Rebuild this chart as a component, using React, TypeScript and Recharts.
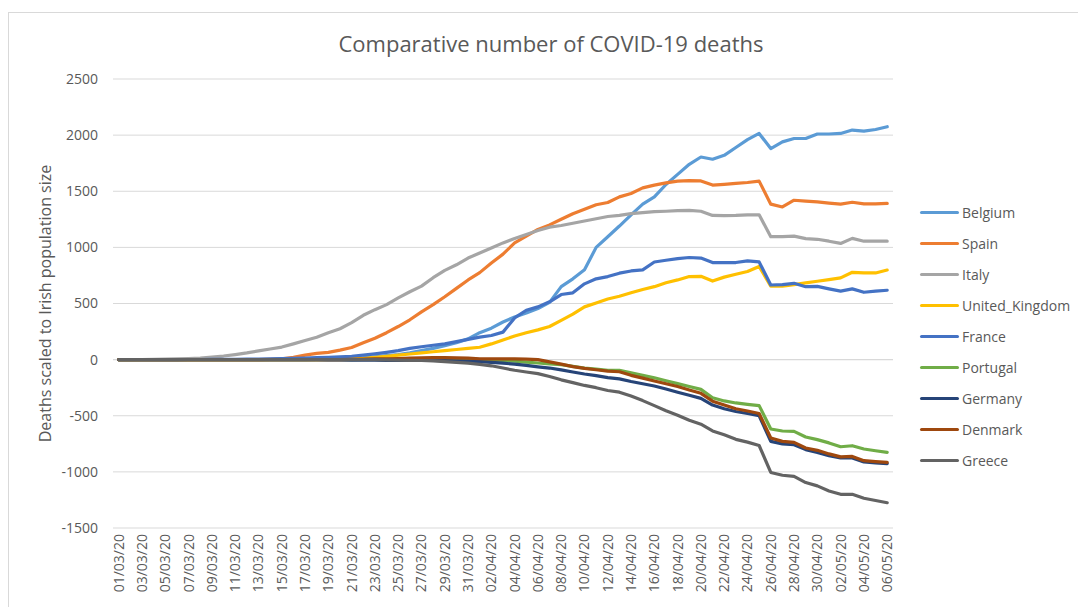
import { CartesianGrid, Line, LineChart, ReferenceLine, XAxis, YAxis } from "recharts"

const dates = [
  "01/03/20", "02/03/20", "03/03/20", "04/03/20", "05/03/20", "06/03/20", "07/03/20", "08/03/20", "09/03/20", "10/03/20",
  "11/03/20", "12/03/20", "13/03/20", "14/03/20", "15/03/20", "16/03/20", "17/03/20", "18/03/20", "19/03/20", "20/03/20",
  "21/03/20", "22/03/20", "23/03/20", "24/03/20", "25/03/20", "26/03/20", "27/03/20", "28/03/20", "29/03/20", "30/03/20",
  "31/03/20", "01/04/20", "02/04/20", "03/04/20", "04/04/20", "05/04/20", "06/04/20", "07/04/20", "08/04/20", "09/04/20",
  "10/04/20", "11/04/20", "12/04/20", "13/04/20", "14/04/20", "15/04/20", "16/04/20", "17/04/20", "18/04/20", "19/04/20",
  "20/04/20", "21/04/20", "22/04/20", "23/04/20", "24/04/20", "25/04/20", "26/04/20", "27/04/20", "28/04/20", "29/04/20",
  "30/04/20", "01/05/20", "02/05/20", "03/05/20", "04/05/20", "05/05/20", "06/05/20",
]

const belgium = [
  0, 0, 0, 0, 0, 0, 0, 0, 0, 0, 0, 0, 0, 0, 0, 0, 0, 1, 2, 4,
  10, 15, 25, 35, 45, 60, 80, 100, 125, 150, 185, 240, 280, 335, 380, 415, 455, 510, 650, 720,
  800, 1000, 1095, 1190, 1290, 1385, 1450, 1560, 1650, 1740, 1805, 1785, 1820, 1890, 1960, 2015, 1880, 1940, 1970, 1970,
  2010, 2010, 2015, 2045, 2035, 2050, 2075,
]
const spain = [
  0, 0, 0, 0, 0, 0, 0, 0, 0, 0, 0, 0, 0, 3, 8, 20, 40, 55, 65, 85,
  108, 150, 190, 240, 295, 355, 425, 490, 560, 635, 710, 775, 860, 940, 1040, 1100, 1160, 1200, 1250, 1300,
  1340, 1380, 1400, 1450, 1480, 1530, 1555, 1575, 1590, 1595, 1592, 1555, 1562, 1570, 1578, 1590, 1385, 1360, 1420, 1412,
  1405, 1395, 1385, 1402, 1388, 1388, 1392,
]
const italy = [
  0, 0, 1, 2, 4, 6, 10, 14, 22, 32, 45, 60, 78, 95, 112, 140, 170, 200, 240, 275,
  330, 395, 445, 490, 550, 605, 655, 730, 795, 845, 905, 950, 995, 1040, 1080, 1115, 1150, 1180, 1195, 1215,
  1235, 1255, 1275, 1285, 1300, 1310, 1318, 1322, 1328, 1330, 1322, 1285, 1283, 1285, 1290, 1290, 1095, 1095, 1100, 1078,
  1072, 1055, 1035, 1080, 1055, 1055, 1055,
]
const unitedKingdom = [
  0, 0, 0, 0, 0, 0, 0, 0, 0, 0, 0, 0, 0, 0, 0, 0, 0, 0, 2, 4,
  8, 12, 20, 30, 40, 50, 60, 70, 80, 90, 100, 110, 140, 175, 210, 240, 265, 295, 350, 405,
  470, 505, 540, 565, 595, 625, 650, 685, 710, 740, 742, 700, 735, 760, 785, 830, 655, 655, 668, 683,
  698, 713, 728, 778, 772, 772, 798,
]
const france = [
  0, 0, 0, 0, 0, 0, 1, 1, 2, 2, 3, 4, 5, 7, 9, 11, 14, 17, 20, 25,
  30, 40, 52, 65, 80, 100, 115, 128, 140, 160, 180, 200, 215, 245, 372, 440, 470, 515, 580, 595,
  675, 720, 740, 770, 790, 800, 870, 885, 900, 910, 905, 865, 865, 865, 880, 870, 665, 668, 680, 650,
  652, 630, 610, 630, 600, 610, 618,
]
const portugal = [
  0, 0, 0, 0, 0, 0, 0, 0, 0, 0, 0, 0, 0, 0, 0, 0, 0, 0, 0, 0,
  0, 1, 2, 3, 4, 6, 8, 10, 10, 8, 5, 0, -4, -8, -14, -22, -30, -38, -45, -60,
  -75, -85, -95, -95, -118, -140, -162, -188, -214, -240, -265, -340, -368, -386, -398, -410, -618, -636, -639, -689,
  -713, -742, -776, -767, -796, -812, -826,
]
const germany = [
  0, 0, 0, 0, 0, 0, 0, 0, 0, 0, 0, 0, 0, 0, 0, 0, 0, 0, -2, -3,
  -4, -5, -5, -6, -6, -5, -5, -6, -8, -10, -14, -18, -24, -32, -40, -52, -64, -75, -92, -110,
  -128, -142, -160, -172, -195, -215, -235, -262, -290, -318, -345, -405, -438, -462, -480, -500, -728, -750, -758, -802,
  -826, -855, -876, -876, -912, -920, -927,
]
const denmark = [
  0, 0, 0, 0, 0, 0, 0, 0, 0, 0, 0, 0, 0, 0, 0, 0, 0, 0, 0, 0,
  2, 4, 6, 8, 10, 14, 16, 18, 18, 16, 14, 8, 6, 8, 6, 4, 0, -20, -40, -62,
  -78, -90, -102, -108, -140, -165, -190, -215, -240, -270, -300, -370, -405, -438, -458, -480, -698, -728, -737, -787,
  -808, -840, -866, -862, -900, -908, -915,
]
const greece = [
  0, 0, 0, 0, 0, 0, 0, 0, 0, 0, 0, 0, 0, 0, 0, 0, 0, 0, 0, 0,
  0, 0, 0, -2, -4, -6, -8, -12, -18, -25, -32, -42, -55, -75, -95, -110, -125, -150, -180, -205,
  -230, -250, -275, -290, -325, -365, -410, -455, -495, -540, -575, -635, -670, -710, -735, -765, -1005, -1030, -1040, -1095,
  -1125, -1170, -1200, -1200, -1235, -1255, -1275,
]

const yTicks = [-1500, -1000, -500, 0, 500, 1000, 1500, 2000, 2500]

const series = [
  { name: "Belgium", color: "#5B9BD5", values: belgium },
  { name: "Spain", color: "#ED7D31", values: spain },
  { name: "Italy", color: "#A5A5A5", values: italy },
  { name: "United_Kingdom", color: "#FFC000", values: unitedKingdom },
  { name: "France", color: "#4472C4", values: france },
  { name: "Portugal", color: "#70AD47", values: portugal },
  { name: "Germany", color: "#264478", values: germany },
  { name: "Denmark", color: "#9E480E", values: denmark },
  { name: "Greece", color: "#636363", values: greece },
]

const rows = dates.map((date, i) => {
  const row: Record<string, string | number> = { date }
  series.forEach((s) => {
    row[s.name] = s.values[i]
  })
  return row
})

const FONT = "'Open Sans', 'Noto Sans', sans-serif"
const TEXT = "#595959"

function DateTick({ x, y, payload }: any) {
  return (
    <text
      x={x}
      y={y}
      transform={`rotate(-90, ${x}, ${y})`}
      textAnchor="end"
      dy="0.35em"
      fill={TEXT}
      fontSize={14}
      fontFamily={FONT}
    >
      {payload.value}
    </text>
  )
}

export default function App() {
  return (
    <div style={{ position: "fixed", left: 0, top: 0, width: 1078, height: 607, background: "#fff", overflow: "hidden" }}>
      <div
        style={{
          position: "absolute",
          left: 8,
          top: 12,
          width: 1100,
          height: 620,
          border: "1px solid #d9d9d9",
        }}
      />
      <div
        style={{
          position: "absolute",
          left: 0,
          top: 28,
          width: 1102,
          textAlign: "center",
          fontFamily: FONT,
          fontSize: 22,
          color: TEXT,
        }}
      >
        Comparative number of COVID-19 deaths
      </div>
      <div style={{ position: "absolute", left: 0, top: 0 }}>
        <LineChart width={1078} height={607} data={rows} margin={{ top: 79, right: 185, bottom: 0, left: 33 }}>
          <CartesianGrid vertical={false} stroke="#d9d9d9" />
          <XAxis
            dataKey="date"
            interval={1}
            height={79}
            tickSize={0}
            tickMargin={6}
            axisLine={false}
            tickLine={false}
            padding={{ left: 5.8, right: 5.8 }}
            tick={<DateTick />}
          />
          <YAxis
            width={80}
            domain={[-1500, 2500]}
            ticks={yTicks}
            axisLine={false}
            tickLine={false}
            tickMargin={9}
            tick={{ fill: TEXT, fontSize: 14, fontFamily: FONT }}
            label={{
              value: "Deaths scaled to Irish population size",
              angle: -90,
              position: "insideLeft",
              offset: 12,
              style: { textAnchor: "middle", fill: TEXT, fontSize: 16, fontFamily: FONT },
            }}
          />
          <ReferenceLine y={0} stroke="#d9d9d9" strokeWidth={1} />
          {series.map((s) => (
            <Line
              key={s.name}
              type="linear"
              dataKey={s.name}
              stroke={s.color}
              strokeWidth={3.2}
              strokeLinejoin="round"
              strokeLinecap="round"
              dot={false}
              activeDot={false}
              isAnimationActive={false}
            />
          ))}
        </LineChart>
      </div>
      <div style={{ position: "absolute", left: 920, top: 197, fontFamily: FONT, fontSize: 14, color: TEXT }}>
        {series.map((s) => (
          <div key={s.name} style={{ display: "flex", alignItems: "center", height: 31 }}>
            <span style={{ display: "inline-block", width: 39, height: 3, background: s.color, borderRadius: 2, marginRight: 3 }} />
            <span>{s.name}</span>
          </div>
        ))}
      </div>
    </div>
  )
}
